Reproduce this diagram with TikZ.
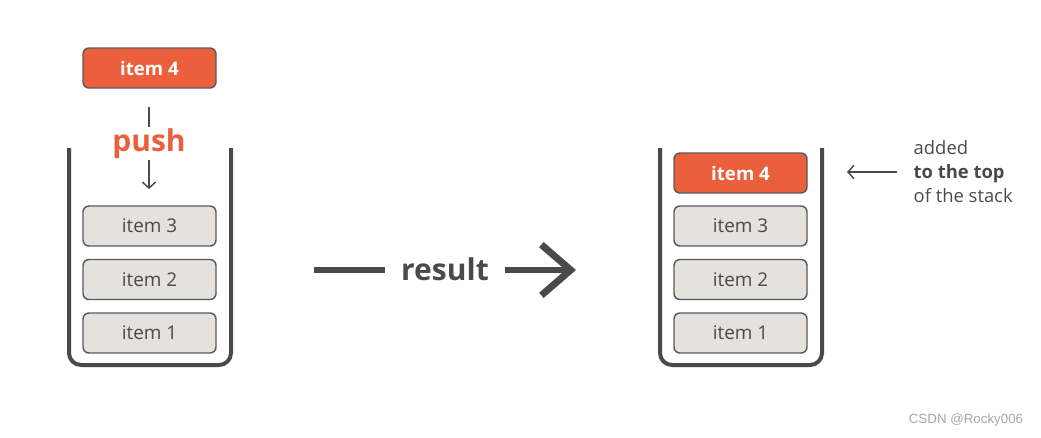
\documentclass[tikz,border=0pt]{standalone}
\usepackage{fontspec}
\setmainfont{Open Sans}
\newfontfamily\wmfont{Liberation Sans}
\usetikzlibrary{arrows.meta,positioning,calc}
\definecolor{coral}{HTML}{EC5F3D}
\definecolor{slot}{HTML}{E5E2DD}
\definecolor{ink}{HTML}{4A4A4A}
\definecolor{edge}{HTML}{5A5A5A}

\begin{document}
\begin{tikzpicture}[x=0.75pt,y=-0.75pt,>={Straight Barb[length=4.5pt,width=10pt]},
  every node/.style={font=\fontsize{14.2}{16}\selectfont,text=ink},
  itembox/.style={rounded corners=4.5pt,draw=edge,line width=1.1pt,fill=slot,minimum width=99.75pt,minimum height=30pt,inner sep=0pt},
  topbox/.style={itembox,fill=coral,text=white,font=\fontsize{14}{16}\selectfont\bfseries},
  stackwall/.style={draw=ink,line width=3pt,rounded corners=9pt},
  thinarrow/.style={->,draw=ink,line width=1.1pt}]
\useasboundingbox (0,0) rectangle (1041,437);
% left stack, before the push
\draw[stackwall] (69,148) -- (69,365) -- (231,365) -- (231,148);
\node[topbox] (l4) at (149.5,68) {item 4};
\node[itembox] (l3) at (149.5,226) {item 3};
\node[itembox] (l2) at (149.5,279.5) {item 2};
\node[itembox] (l1) at (149.5,333) {item 1};
\node[font=\fontsize{22.5}{26}\selectfont\bfseries,text=coral] (push) at (149,144) {push};
\coordinate (pa) at (149,107);
\coordinate (pb) at (149,127);
\coordinate (pc) at (149,160);
\coordinate (pd) at (149,189);
\draw[draw=ink,line width=1.1pt] (pa)--(pb);
\draw[thinarrow] (pc)--(pd);
% result arrow
\node[font=\fontsize{22.5}{26}\selectfont\bfseries] (res) at (445,269) {result};
\coordinate (ra) at (314,270);
\coordinate (rb) at (576,270);
\draw[draw=ink,line width=5.2pt] (ra)--($(res.west)+(-12,1)$);
\draw[draw=ink,line width=5.2pt,-{Straight Barb[length=22pt,width=38pt]}] ($(res.east)+(12,1)$)--(rb);
% right stack, after the push
\draw[stackwall] (660,148) -- (660,365) -- (822,365) -- (822,148);
\node[topbox] (r4) at (740.5,173) {item 4};
\node[itembox] (r3) at (740.5,226) {item 3};
\node[itembox] (r2) at (740.5,279.5) {item 2};
\node[itembox] (r1) at (740.5,333) {item 1};
\node[align=left,anchor=west,font=\fontsize{13.8}{18}\selectfont] (note) at (909,172) {added\\\textbf{to the top}\\of the stack};
\coordinate (na) at (897,172);
\coordinate (nb) at (847,172);
\draw[thinarrow] (na)--(nb);
\node[font=\wmfont\fontsize{10}{12}\selectfont,text=gray!70] (wm) at (966,420) {CSDN @Rocky006};
\end{tikzpicture}
\end{document}
